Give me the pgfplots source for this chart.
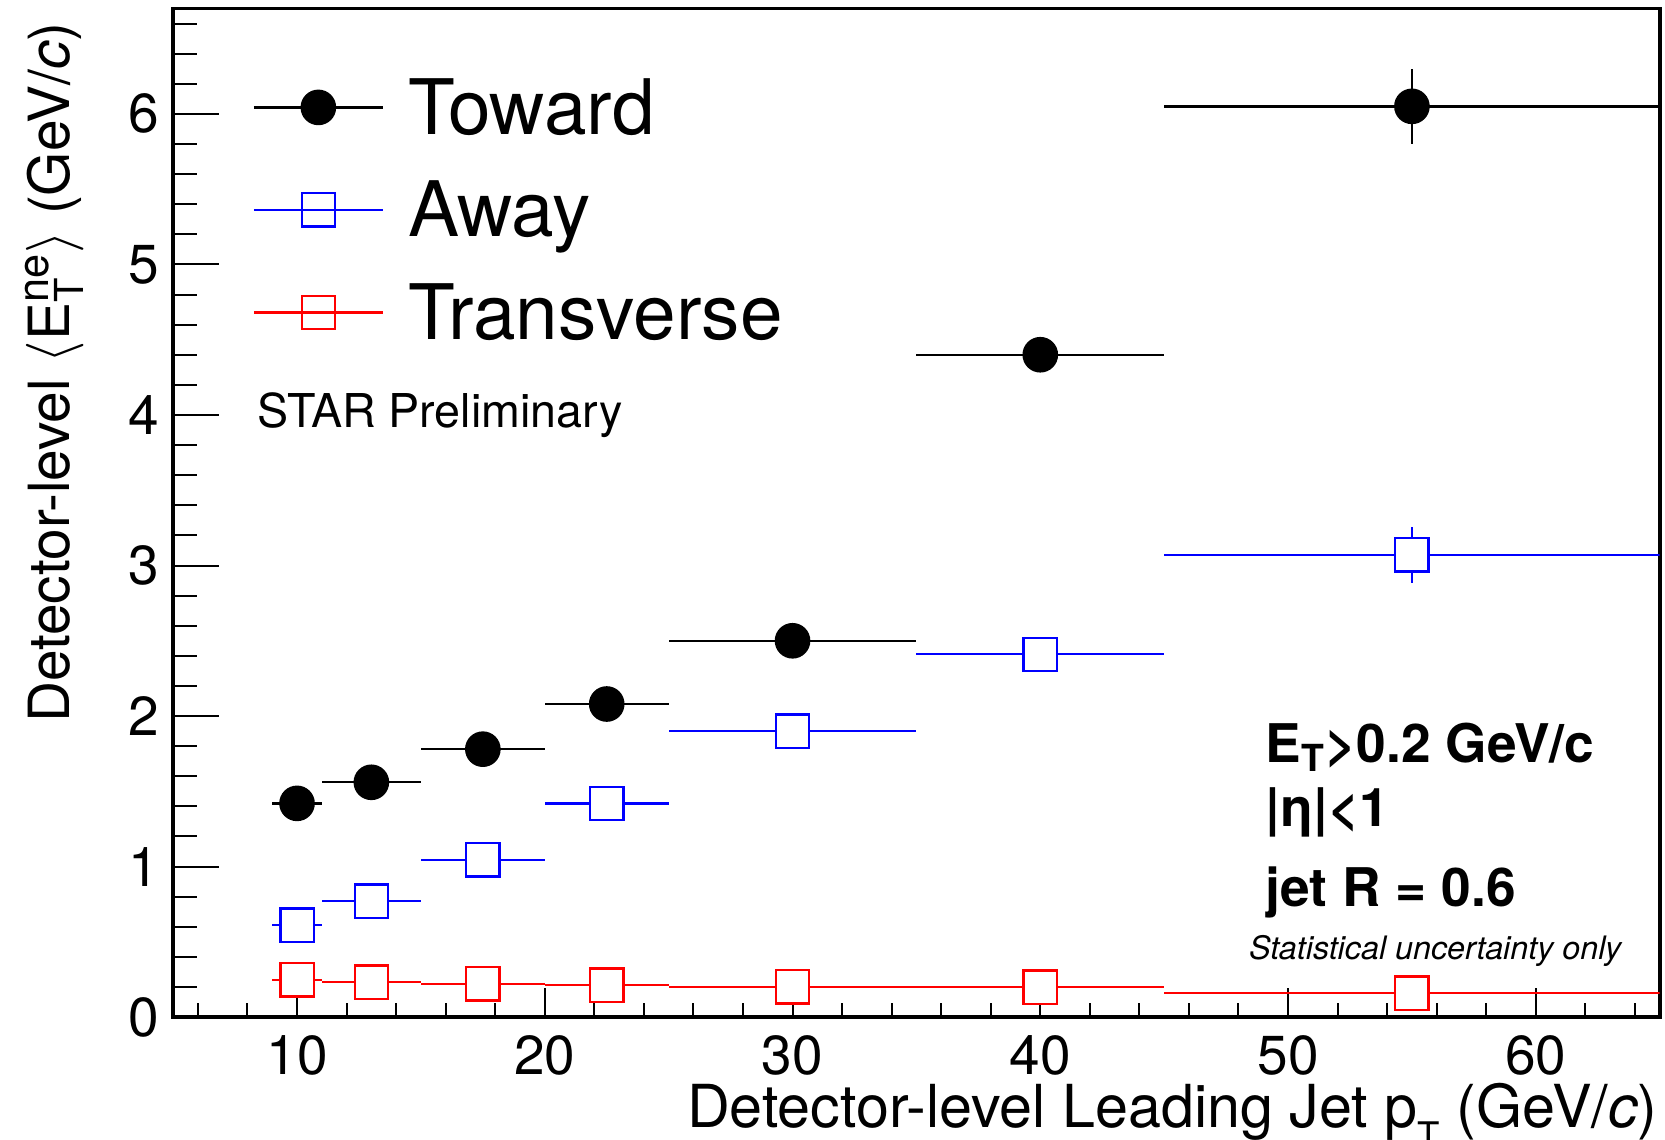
\documentclass[border=0pt]{standalone}
\usepackage{pgfplots}
\pgfplotsset{compat=1.18}
\usepackage{fontspec}
\setmainfont{TeX Gyre Heros}
\pgfplotsset{
  mylegend/.style={legend image code/.code={
      \draw[##1,only marks] plot coordinates {(19.35pt,0pt)};
      \draw[##1,sharp plot,mark=none] plot coordinates {(0pt,0pt) (38.7pt,0pt)};
  }},
  myerr/.style={error bars/.cd, x dir=both, x explicit, y dir=both, y explicit, error mark=none,
     error bar style={line width=0.7pt, #1}},
}
\begin{document}
\begin{tikzpicture}
\begin{axis}[
  scale only axis, width=446.4pt, height=302.9pt,
  at={(0,0)}, anchor=south west,
  xmin=5, xmax=65, ymin=0, ymax=6.7,
  xtick={10,20,...,60}, ytick={0,1,...,6},
  minor xtick={6,8,...,64}, minor ytick={0.2,0.4,...,6.61},
  tick align=inside, xtick pos=left, ytick pos=left,
  axis line style={line width=1.1pt},
  tick style={line width=0.6pt, black},
  major tick length=13.8pt, minor tick length=7.2pt,
  x tick style={/pgfplots/major tick length=8.8pt, /pgfplots/minor tick length=4.2pt},
  /pgf/number format/assume math mode=true,
  tick label style={font=\fontsize{16.5}{18}\selectfont},
  yticklabel style={inner sep=0pt, xshift=-4pt},
  xticklabel style={inner sep=0pt, yshift=-5.4pt},
  xlabel={Detector-level Leading Jet p\raisebox{-6.5pt}{\fontsize{11}{11}\selectfont T} (GeV/\textit{c})},
  ylabel={Detector-level $\langle$E$^{\mbox{\fontsize{13}{13}\selectfont ne}}_{\mbox{\fontsize{12}{12}\selectfont T}}\rangle$ (GeV/\textit{c})},
  every axis x label/.style={at={(rel axis cs:1,0)}, anchor=base east, yshift=-33pt, xshift=-0.4pt, inner sep=0pt, text height=12.6pt, text depth=0pt, font=\fontsize{17.8}{20}\selectfont},
  every axis y label/.style={at={(rel axis cs:0,0.987)}, xshift=-31.2pt, rotate=90, anchor=base east, inner sep=0pt, font=\fontsize{17.05}{20}\selectfont},
  legend style={at={(rel axis cs:0.0531,0.929)}, anchor=north west, draw=none, fill=none, inner sep=0pt,
     font=\fontsize{23}{26}\selectfont, row sep=14.8pt, column sep=7.3pt,
     nodes={inner sep=0pt, text height=16pt, text depth=0pt}, cells={anchor=west}},
  clip=true,
]
\addplot[only marks, black, mark=*, mark size=5pt, mark options={fill=black, draw=black}, line width=0.7pt, mylegend, myerr=black]
  table[x=x, y=y, x error=ex, y error=ey] {
x    y     ex   ey
10   1.42  1    0
13   1.56  2    0
17.5 1.78  2.5  0
22.5 2.08  2.5  0
30   2.50  5    0
40   4.40  5    0
55   6.05  10   0.25
};
\addlegendentry{Toward}
\addplot[only marks, blue, mark=square*, mark size=5pt, mark options={fill=white, draw=blue}, line width=0.7pt, mylegend, myerr=blue]
  table[x=x, y=y, x error=ex, y error=ey] {
x    y     ex   ey
10   0.61  1    0
13   0.77  2    0
17.5 1.045 2.5  0
22.5 1.42  2.5  0
30   1.90  5    0
40   2.41  5    0
55   3.07  10   0.185
};
\addlegendentry{Away}
\addplot[only marks, red, mark=square*, mark size=5pt, mark options={fill=white, draw=red}, line width=0.7pt, mylegend, myerr=red]
  table[x=x, y=y, x error=ex, y error=ey] {
x    y     ex   ey
10   0.248 1    0
13   0.232 2    0
17.5 0.221 2.5  0
22.5 0.213 2.5  0
30   0.201 5    0
40   0.200 5    0
55   0.160 10   0
};
\addlegendentry{Transverse}
\node[anchor=base west, inner sep=0pt, font=\fontsize{14}{16}\selectfont] at (axis cs:8.37,3.915) {STAR Preliminary};
\node[anchor=base west, inner sep=0pt, font=\bfseries\fontsize{16}{19}\selectfont] at (axis cs:49.07,1.691) {E\textsubscript{T}>0.2 GeV/c};
\node[anchor=base west, inner sep=0pt, font=\bfseries\fontsize{16}{19}\selectfont] at (axis cs:49.07,1.266) {|η|<1};
\node[anchor=base west, inner sep=0pt, font=\bfseries\fontsize{16}{19}\selectfont] at (axis cs:49.07,0.735) {jet R = 0.6};
\node[anchor=base west, inner sep=0pt, font=\itshape\fontsize{9.7}{12}\selectfont] at (axis cs:48.4,0.385) {Statistical uncertainty only};
\end{axis}
\pgfresetboundingbox
\path[use as bounding box] (-52pt,-36.85pt) rectangle (448pt,305.45pt);
\end{tikzpicture}
\end{document}
